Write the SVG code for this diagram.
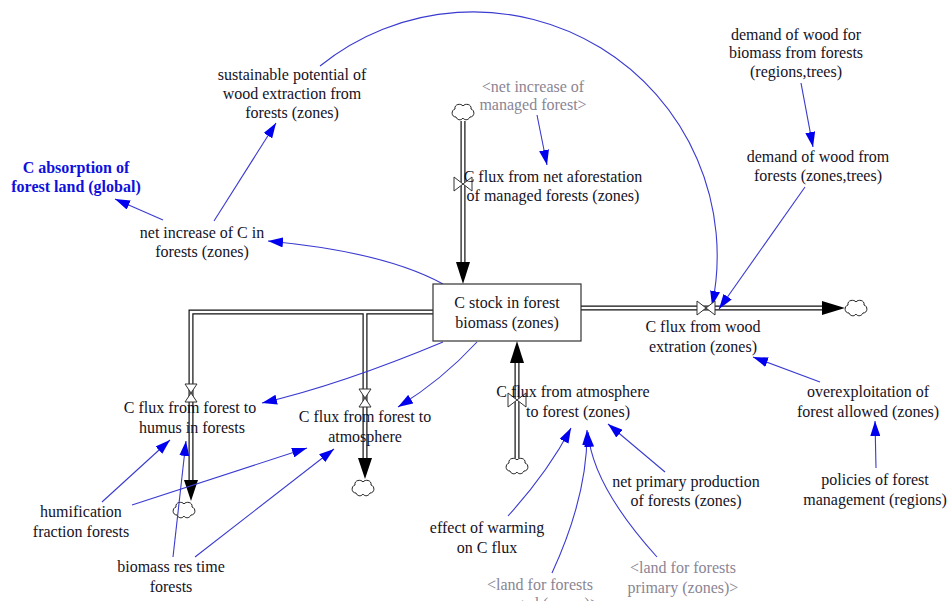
<svg xmlns="http://www.w3.org/2000/svg" xmlns:xlink="http://www.w3.org/1999/xlink" width="950" height="601" viewBox="0 0 950 601">
<style>
text{font-family:"Liberation Serif","Times New Roman",serif;font-size:16px;fill:#15121f;text-anchor:middle}
text.g{fill:#8a8594}
text.b{fill:#1010dd;font-weight:bold}
.link{fill:none;stroke:#3a3ad0;stroke-width:1.1}
.pipeo{fill:none;stroke:#111;stroke-width:5;stroke-linejoin:miter}
.pipei{fill:none;stroke:#fff;stroke-width:2.6;stroke-linejoin:miter}
.head{fill:#000}
.valve{fill:#fff;stroke:#333;stroke-width:1}
.cloud{fill:#fff;stroke:#222;stroke-width:1}
.stock{fill:#fff;stroke:#333;stroke-width:1.2}
</style>
<defs>
<marker id="ah" markerUnits="userSpaceOnUse" markerWidth="16" markerHeight="10" refX="15" refY="5" orient="auto"><path d="M0,0 L15,5 L0,10 z" fill="#0000ee"/></marker>
<path id="cloud" d="M-7,5 C-12,5 -12,-2 -8,-3 C-9,-8 -2,-9 0,-6 C2,-9 9,-8 8,-3 C12,-2 12,5 7,5 C5,9 1,8 0,6 C-2,9 -6,8 -7,5 Z"/>
<path id="vh" d="M-9,-7 L9,7 L9,-7 L-9,7 Z"/>
<path id="vv" d="M-6,-9 L6,9 L-6,9 L6,-9 Z"/>
</defs>
<rect width="950" height="601" fill="#fff"/>

<g id="connectors">
  <g id="pipes">
    <path class="pipeo" d="M463,121 V263"/>
    <path class="pipeo" d="M581,308 H823"/>
    <path class="pipeo" d="M517,458 V362"/>
    <path class="pipeo" d="M433,312 H191 V481"/>
    <path class="pipeo" d="M365,312 V459"/>
    <path class="pipei" d="M463,121 V263"/>
    <path class="pipei" d="M581,308 H823"/>
    <path class="pipei" d="M517,458 V362"/>
    <path class="pipei" d="M433,312 H191 V481"/>
    <path class="pipei" d="M365,312 V459"/>
    <polygon class="head" points="456,262 470,262 463,284"/>
    <polygon class="head" points="822,301 822,315 845,308"/>
    <polygon class="head" points="510,363 524,363 517,341"/>
    <polygon class="head" points="184,480 198,480 191,501"/>
    <polygon class="head" points="358,458 372,458 365,479"/>
    <use href="#cloud" class="cloud" transform="translate(463,112)"/>
    <use href="#cloud" class="cloud" transform="translate(856,308)"/>
    <use href="#cloud" class="cloud" transform="translate(517,466)"/>
    <use href="#cloud" class="cloud" transform="translate(184,510)"/>
    <use href="#cloud" class="cloud" transform="translate(363,488)"/>
  </g>
  <g id="links">
    <path class="link" marker-end="url(#ah)" d="M443,284 Q385,252 268,241"/>
    <path class="link" marker-end="url(#ah)" d="M163,220 L115,199"/>
    <path class="link" marker-end="url(#ah)" d="M214,221 L276,123"/>
    <path class="link" marker-end="url(#ah)" d="M320,66 A244,244 0 0 1 712,306"/>
    <path class="link" marker-end="url(#ah)" d="M537,115 L547,165"/>
    <path class="link" marker-end="url(#ah)" d="M801,83 L813,147"/>
    <path class="link" marker-end="url(#ah)" d="M805,187 L719,309"/>
    <path class="link" marker-end="url(#ah)" d="M820,382 L753,357"/>
    <path class="link" marker-end="url(#ah)" d="M876,468 L875,421"/>
    <path class="link" marker-end="url(#ah)" d="M665,472 L608,424"/>
    <path class="link" marker-end="url(#ah)" d="M508,516 Q548,472 571,428"/>
    <path class="link" marker-end="url(#ah)" d="M552,573 Q588,495 587,430"/>
    <path class="link" marker-end="url(#ah)" d="M657,557 Q592,485 588,432"/>
    <path class="link" marker-end="url(#ah)" d="M443,342 Q340,385 262,403"/>
    <path class="link" marker-end="url(#ah)" d="M477,342 Q442,380 398,407"/>
    <path class="link" marker-end="url(#ah)" d="M102,502 L170,440"/>
    <path class="link" marker-end="url(#ah)" d="M132,505 L307,448"/>
    <path class="link" marker-end="url(#ah)" d="M173,557 L186,441"/>
    <path class="link" marker-end="url(#ah)" d="M195,557 L334,449"/>
  </g>
</g>

<g id="stock-c-forest-biomass">
  <rect class="stock" x="433" y="284" width="148" height="57"/>
  <text x="507" y="308">C stock in forest</text>
  <text x="507" y="328">biomass (zones)</text>
</g>
<g id="flow-aforestation">
  <use href="#vh" class="valve" transform="translate(463,184)"/>
  <text x="553" y="182">C flux from net aforestation</text>
  <text x="553" y="201">of managed forests (zones)</text>
</g>
<g id="flow-wood-extraction">
  <use href="#vh" class="valve" transform="translate(706,308)"/>
  <text x="703" y="332">C flux from wood</text>
  <text x="703" y="352">extration (zones)</text>
</g>
<g id="flow-atm-to-forest">
  <use href="#vh" class="valve" transform="translate(517,400)"/>
  <text x="573" y="397">C flux from atmosphere</text>
  <text x="578" y="417">to forest (zones)</text>
</g>
<g id="flow-forest-to-humus">
  <use href="#vv" class="valve" transform="translate(191,393)"/>
  <text x="190" y="413">C flux from forest to</text>
  <text x="192" y="433">humus in forests</text>
</g>
<g id="flow-forest-to-atm">
  <use href="#vv" class="valve" transform="translate(365,398)"/>
  <text x="365" y="422">C flux from forest to</text>
  <text x="365" y="442">atmosphere</text>
</g>
<g id="sustainable-potential">
  <text x="292" y="80">sustainable potential of</text>
  <text x="292" y="99">wood extraction from</text>
  <text x="292" y="118">forests (zones)</text>
</g>
<g id="c-absorption">
  <text class="b" x="76" y="173">C absorption of</text>
  <text class="b" x="76" y="192">forest land (global)</text>
</g>
<g id="net-increase-c">
  <text x="202" y="238">net increase of C in</text>
  <text x="202" y="257">forests (zones)</text>
</g>
<g id="net-increase-managed">
  <text class="g" x="533" y="92">&lt;net increase of</text>
  <text class="g" x="533" y="110">managed forest&gt;</text>
</g>
<g id="demand-biomass">
  <text x="796" y="40">demand of wood for</text>
  <text x="796" y="58">biomass from forests</text>
  <text x="796" y="77">(regions,trees)</text>
</g>
<g id="demand-wood">
  <text x="818" y="162">demand of wood from</text>
  <text x="818" y="181">forests (zones,trees)</text>
</g>
<g id="overexploitation">
  <text x="868" y="397">overexploitation of</text>
  <text x="868" y="417">forest allowed (zones)</text>
</g>
<g id="policies">
  <text x="875" y="485">policies of forest</text>
  <text x="875" y="505">management (regions)</text>
</g>
<g id="net-primary-production">
  <text x="686" y="487">net primary production</text>
  <text x="686" y="506">of forests (zones)</text>
</g>
<g id="effect-warming">
  <text x="487" y="533">effect of warming</text>
  <text x="487" y="553">on C flux</text>
</g>
<g id="land-managed">
  <text class="g" x="540" y="590">&lt;land for forests</text>
  <text class="g" x="540" y="609">managed (zones)&gt;</text>
</g>
<g id="land-primary">
  <text class="g" x="683" y="573">&lt;land for forests</text>
  <text class="g" x="683" y="593">primary (zones)&gt;</text>
</g>
<g id="humification">
  <text x="81" y="517">humification</text>
  <text x="81" y="537">fraction forests</text>
</g>
<g id="biomass-res-time">
  <text x="171" y="572">biomass res time</text>
  <text x="171" y="592">forests</text>
</g>
</svg>
